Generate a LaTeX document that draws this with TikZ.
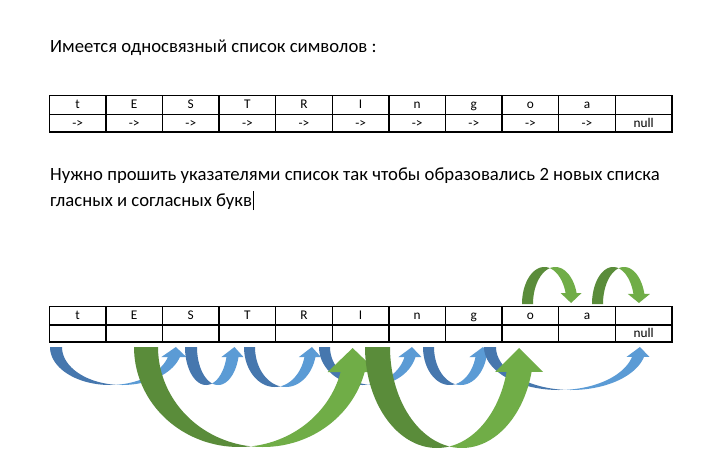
\documentclass[tikz,border=0pt]{standalone}
\usepackage{fontspec}
\setmainfont{Carlito}
\definecolor{bdark}{HTML}{4677AE}
\definecolor{blight}{HTML}{5B9BD5}
\definecolor{gdark}{HTML}{5A8C3A}
\definecolor{glight}{HTML}{70AD47}
\def\cvTilt{0}
% #1 colour prefix, #2 crossing x, #3 base y, #4 x radius, #5 y radius (signed),
% #6 band width, #7 neck angle, #8 head half width, #9 head length (signed)
\newcommand\curvarr[9]{%
  \pgfmathsetmacro\cvAl{acos(#6/(2*#4))}%
  \pgfmathsetmacro\cvTa{180-\cvAl}%
  \pgfmathsetmacro\cvEa{#2-#6/2}%
  \pgfmathsetmacro\cvEb{#2+#6/2}%
  \pgfmathsetmacro\cvMx{#2+#4*cos(#7)}%
  \pgfmathsetmacro\cvNy{#3+(#5)*sin(#7)}%
  \fill[#1dark] plot[domain=180:\cvAl,samples=40] ({\cvEa+#4*cos(\x)},{#3+(#5)*sin(\x)})
     -- plot[domain=\cvTa:180,samples=40] ({\cvEb+#4*cos(\x)},{#3+(#5)*sin(\x)}) -- cycle;
  \fill[#1light] plot[domain=\cvTa:#7,samples=40] ({\cvEb+#4*cos(\x)},{#3+(#5)*sin(\x)})
     -- ({\cvMx+#8},\cvNy) -- ({\cvMx+\cvTilt},{\cvNy-(#9)}) -- ({\cvMx-#8},\cvNy)
     -- plot[domain=#7:\cvAl,samples=40] ({\cvEa+#4*cos(\x)},{#3+(#5)*sin(\x)}) -- cycle;
}
\tikzset{
  cell/.style={anchor=base, inner sep=0pt, font=\fontsize{13.3}{15}\selectfont},
  maintext/.style={anchor=base west, inner sep=0pt, font=\fontsize{18.7}{22}\selectfont},
  grid/.style={line width=1.3pt, black},
}
\begin{document}
\begin{tikzpicture}[x=1pt,y=-1pt]
\useasboundingbox (0,0) rectangle (701,466);
\fill[white] (0,0) rectangle (701,466);

% texts
\node[maintext] (t1) at (50,52) {Имеется односвязный список символов :};
\node[maintext] (t2) at (50,180) {Нужно прошить указателями список так чтобы образовались 2 новых списка};
\node[maintext] (t3) at (50,206) {гласных и согласных букв};
\coordinate (cur1) at ([xshift=1pt,yshift=-4pt]t3.base east);
\coordinate (cur2) at ([xshift=1pt,yshift=15pt]t3.base east);
\draw[line width=0.8pt] (cur1) -- (cur2);

% table 1
\draw[grid] (49.3,95.5) rectangle (671.9,132);
\draw[grid] (49.3,114.8) -- (671.9,114.8);
\foreach \i in {1,...,10} \draw[grid] ({49.3+56.6*\i},95.5) -- ({49.3+56.6*\i},132);
\foreach \c [count=\i from 0] in {t,E,S,T,R,I,n,g,o,a,{}}
  \node[cell] (a\i) at ({49.3+56.6*(\i+0.5)},108.8) {\c};
\foreach \c [count=\i from 0] in {->,->,->,->,->,->,->,->,->,->,null}
  \node[cell] (p\i) at ({49.3+56.6*(\i+0.5)},127.4) {\c};

% table 2
\draw[grid] (49.3,306.5) rectangle (671.9,342);
\draw[grid] (49.3,325) -- (671.9,325);
\foreach \i in {1,...,10} \draw[grid] ({49.3+56.6*\i},306.5) -- ({49.3+56.6*\i},342);
\foreach \c [count=\i from 0] in {t,E,S,T,R,I,n,g,o,a,{}}
  \node[cell] (b\i) at ({49.3+56.6*(\i+0.5)},319.8) {\c};
\node[cell] (q10) at ({49.3+56.6*10.5},337.7) {null};

% blue arrows (consonants)
\def\cvTilt{2}
\curvarr{b}{116}{347}{60}{38}{12}{15.3}{12.5}{10}
\curvarr{b}{212.1}{347}{21.1}{38}{12}{15.3}{11}{10}
\curvarr{b}{280.2}{347}{30.7}{40}{11}{14.5}{11}{10}
\curvarr{b}{368}{347}{43.5}{38}{11}{15.3}{11.5}{10}
\curvarr{b}{455.2}{347}{26.7}{38}{11}{15.3}{11.5}{10}
\curvarr{b}{565}{347}{75}{43}{12}{13.4}{11.5}{10}

% green arrows (vowels)
\def\cvTilt{0}
\curvarr{g}{251}{347}{105}{100}{24}{14.5}{25}{24}
\curvarr{g}{449.4}{347}{71.9}{101}{25}{14.3}{24}{24}
\curvarr{g}{549.8}{304}{22.3}{-37}{11}{17.3}{10.5}{-10}
\curvarr{g}{618.6}{304}{21.1}{-37}{11}{15.7}{11}{-9}
\end{tikzpicture}
\end{document}
